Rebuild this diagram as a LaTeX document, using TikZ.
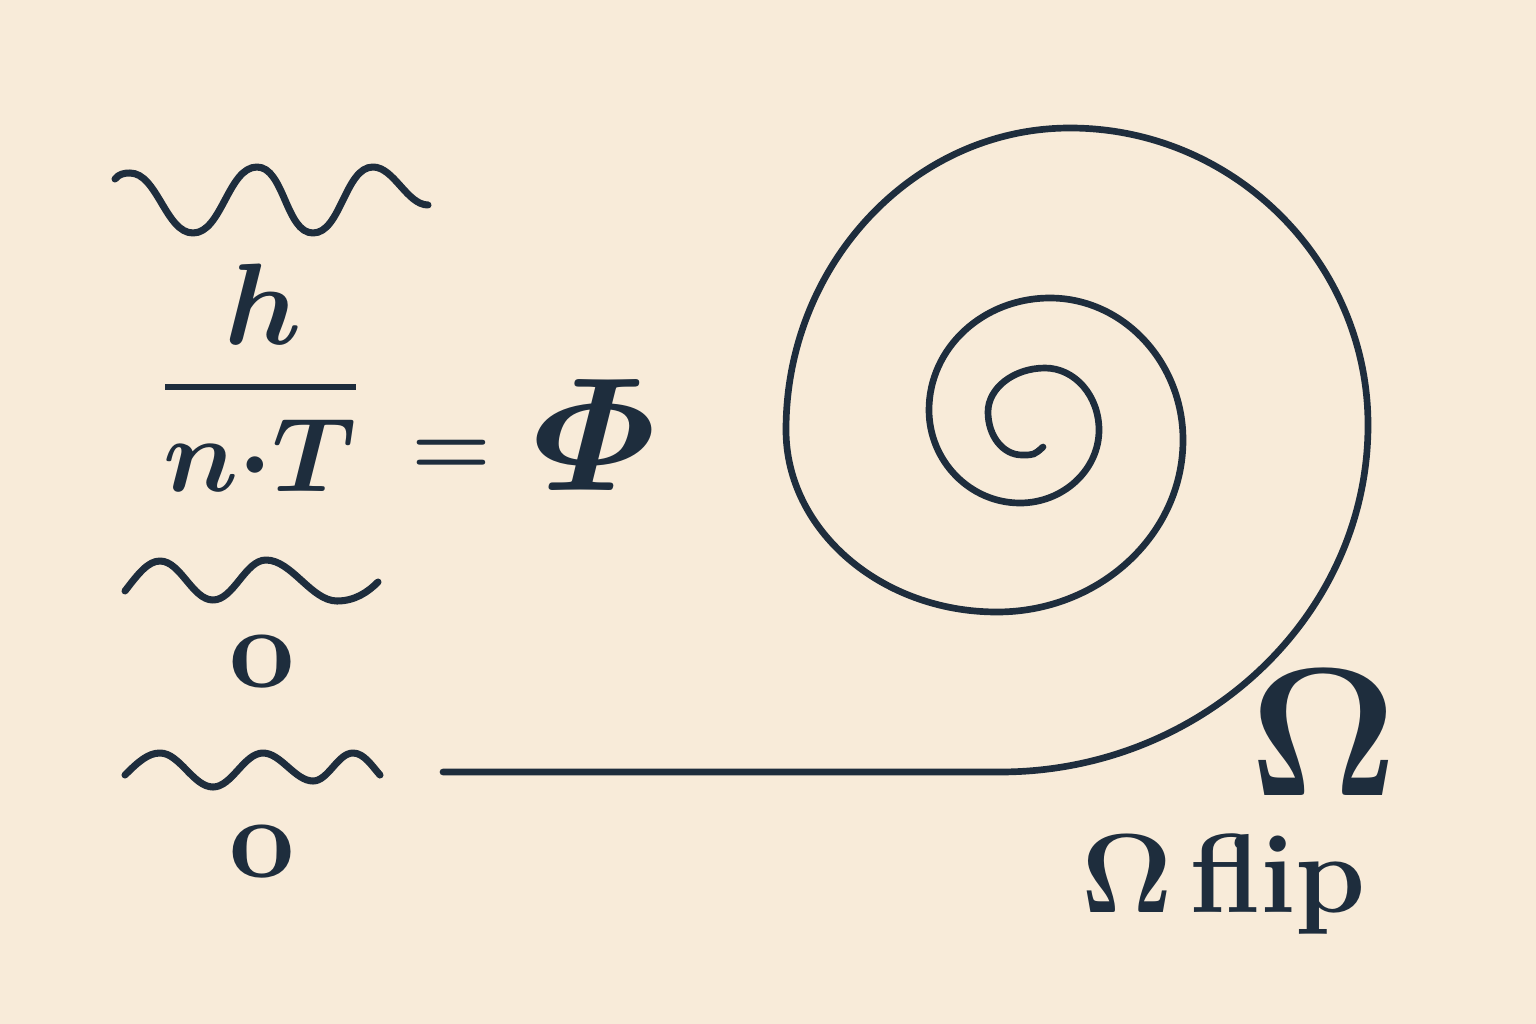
\RequirePackage{fix-cm}
\documentclass[tikz,border=0pt]{standalone}
\usepackage{amsmath}
\usepackage{xcolor}
\usetikzlibrary{positioning}
\definecolor{paper}{RGB}{248,235,217}
\definecolor{ink}{RGB}{30,45,61}

\begin{document}
\begin{tikzpicture}[
  x=0.01cm, y=-0.01cm,
  wave/.style={draw=ink,line width=2pt,line cap=round,line join=round},
  hump/.style={out=0,in=180,looseness=0.8},
  coil/.style={draw=ink,line width=1.9pt,line cap=round,line join=round},
  sym/.style={text=ink,inner sep=0pt,anchor=center},
  huge/.style={font=\fontsize{33}{40}\selectfont},
  mid/.style={font=\fontsize{30}{36}\selectfont},
  giant/.style={font=\fontsize{46}{54}\selectfont},
  boldo/.style={font=\fontsize{33}{40}\selectfont\bfseries}
]

\fill[paper] (0,0) rectangle (1536,1024);

\draw[wave] (115,179) .. controls (119,174) and (124,173) .. (130,173)
  to[hump] (193,233) to[hump] (257,167) to[hump] (313,233)
  to[hump] (373,167) to[hump] (428,205);

\node[sym,huge] (num) at (263,304) {$\boldsymbol{h}$};
\draw[ink,line width=1.7pt] (165,387) -- (356,387);
\node[sym,mid] (den) at (260,455) {$\boldsymbol{n}{\boldsymbol{\cdot}}\boldsymbol{T}$};
\node[sym,font=\fontsize{26}{31}\selectfont] (eq) at (451,458) {$\boldsymbol{=}$};
\node[sym,giant] (phi) at (595,435) {$\boldsymbol{\varPhi}$};

\draw[wave] (125,591) .. controls (138,574) and (148,561) .. (160,561)
  to[hump] (213,600) to[hump] (266,560) to[hump] (337,601)
  .. controls (355,601) and (368,592) .. (378,582);
\node[sym,boldo] (o1) at (262,662) {o};

\draw[wave] (125,775) .. controls (138,762) and (148,753) .. (160,753)
  to[hump] (213,787) to[hump] (263,753) to[hump] (313,781) to[hump] (353,753)
  .. controls (364,753) and (372,766) .. (380,775);
\node[sym,boldo] (o2) at (262,852) {o};

\draw[coil] (443,772) -- (1000,772)
  .. controls (1202,772) and (1368,616) .. (1368,425)
  .. controls (1368,262) and (1234,128) .. (1070,128)
  .. controls (914,128) and (786,264) .. (786,430)
  .. controls (786,530) and (881,612) .. (997,612)
  .. controls (1099,612) and (1183,535) .. (1183,440)
  .. controls (1183,362) and (1123,298) .. (1050,298)
  .. controls (983,298) and (929,348) .. (929,410)
  .. controls (929,461) and (970,503) .. (1020,503)
  .. controls (1063,503) and (1099,470) .. (1099,430)
  .. controls (1099,396) and (1075,368) .. (1045,368)
  .. controls (1014,368) and (988,388) .. (988,412)
  .. controls (988,436) and (1003,455) .. (1022,455)
  .. controls (1034,455) .. (1043,447);

\node[sym,font=\fontsize{52}{60}\selectfont] (omega) at (1324,733) {$\mathbf{\Omega}$};
\node[sym,anchor=base,font=\fontsize{32}{38}\selectfont\bfseries] (flip) at (1224,912)
  {$\mathbf{\Omega}$\hspace{0.15em}flip};

\end{tikzpicture}
\end{document}
